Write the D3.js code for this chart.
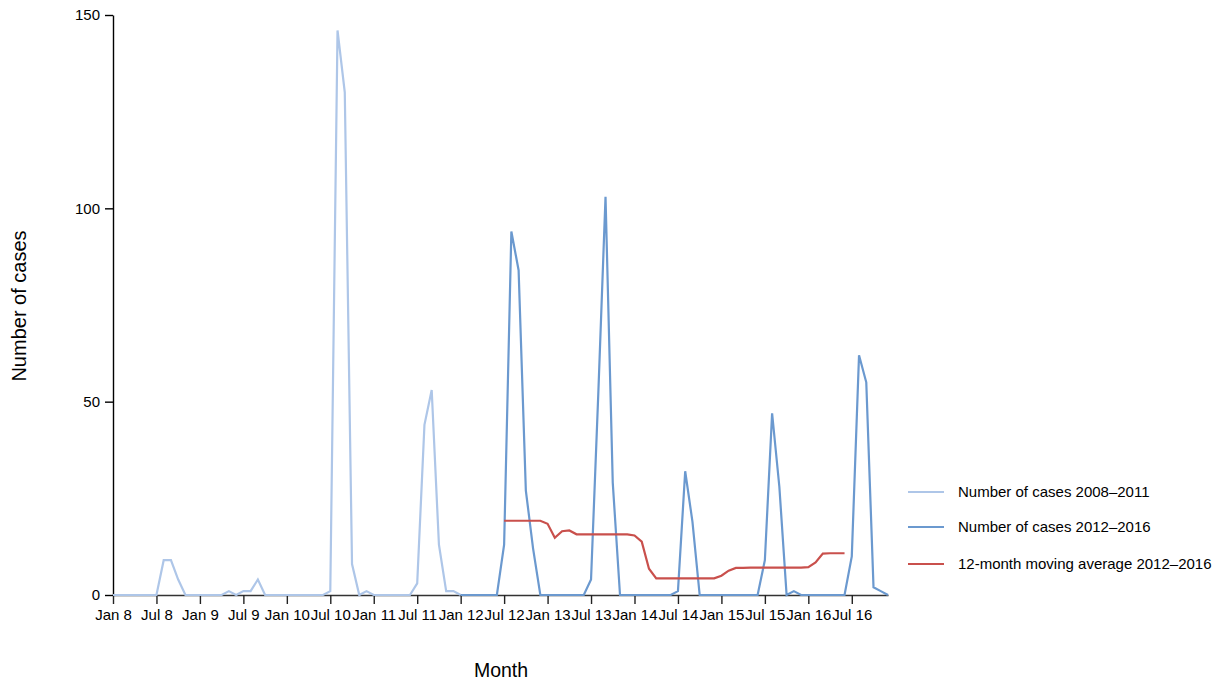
<!DOCTYPE html>
<html>
<head>
<meta charset="utf-8">
<script src="https://cdn.jsdelivr.net/npm/d3@7"></script>
<style>
  body { margin: 0; background: #fff; }
  svg { display: block; font-family: "Liberation Sans", Arial, sans-serif; }
</style>
</head>
<body>
<svg id="chart" width="1218" height="681"></svg>
<script>
// Month index 0 = Jan 2008
const tickMonths = [0, 6, 12, 18, 24, 30, 36, 42, 48, 54, 60, 66, 72, 78, 84, 90, 96, 102];
const tickLabels = ["Jan 8", "Jul 8", "Jan 9", "Jul 9", "Jan 10", "Jul 10", "Jan 11", "Jul 11", "Jan 12",
  "Jul 12", "Jan 13", "Jul 13", "Jan 14", "Jul 14", "Jan 15", "Jul 15", "Jan 16", "Jul 16"];
const yTicks = [0, 50, 100, 150];

// Number of cases 2008–2011 (months 0..48)
const startEarly = 0;
const casesEarly = [
  0, 0, 0, 0, 0, 0, 0, 9, 9, 4, 0, 0,
  0, 0, 0, 0, 1, 0, 1, 1, 4, 0, 0, 0,
  0, 0, 0, 0, 0, 0, 1, 146, 130, 8, 0, 1,
  0, 0, 0, 0, 0, 0, 3, 44, 53, 13, 1, 1,
  0
];

// Number of cases 2012–2016 (months 48..107)
const startLate = 48;
const casesLate = [
  0, 0, 0, 0, 0, 0, 13, 94, 84, 27, 12, 0,
  0, 0, 0, 0, 0, 0, 4, 52, 103, 29, 0, 0,
  0, 0, 0, 0, 0, 0, 1, 32, 19, 0, 0, 0,
  0, 0, 0, 0, 0, 0, 9, 47, 28, 0, 1, 0,
  0, 0, 0, 0, 0, 0, 10, 62, 55, 2, 1, 0
];

// 12-month moving average 2012–2016 (months 54..101)
const startAvg = 54;
const movingAvg = [
  19.2, 19.2, 19.2, 19.2, 19.2, 19.2, 18.4, 14.8, 16.5, 16.7, 15.7, 15.7,
  15.7, 15.7, 15.7, 15.7, 15.7, 15.7, 15.4, 13.8, 6.8, 4.3, 4.3, 4.3,
  4.3, 4.3, 4.3, 4.3, 4.3, 4.3, 5.0, 6.3, 7.0, 7.0, 7.1, 7.1,
  7.1, 7.1, 7.1, 7.1, 7.1, 7.1, 7.2, 8.4, 10.7, 10.8, 10.8, 10.8
];

const seriesNames = ["Number of cases 2008\u20132011", "Number of cases 2012\u20132016", "12-month moving average 2012\u20132016"];
const seriesColors = ["#aec6e8", "#6b99cf", "#c9504c"];

const svg = d3.select("#chart");
const x = d3.scaleLinear().domain([0, 107]).range([113, 888]);
const y = d3.scaleLinear().domain([0, 150]).range([595, 15]);

const toPts = (arr, start) => arr.map((v, i) => ({ m: start + i, v }));
const line = d3.line().x(d => x(d.m)).y(d => y(d.v));

const series = [toPts(casesEarly, startEarly), toPts(casesLate, startLate), toPts(movingAvg, startAvg)];

// axes
const xAxis = d3.axisBottom(x).tickValues(tickMonths)
  .tickFormat((d, i) => tickLabels[i]).tickSize(9).tickPadding(5).tickSizeOuter(0);
const gx = svg.append("g").attr("transform", `translate(0,${y(0)})`).call(xAxis);
gx.selectAll("text").attr("font-size", 15).attr("fill", "#000").attr("font-family", "Liberation Sans, Arial, sans-serif");
gx.select(".domain").attr("stroke", "#333").attr("stroke-width", 1.6);
gx.selectAll(".tick line").attr("stroke", "#222").attr("stroke-width", 1.4);

const yAxis = d3.axisLeft(y).tickValues(yTicks).tickSize(8).tickPadding(5).tickSizeOuter(0);
const gy = svg.append("g").attr("transform", `translate(${x(0)},0)`).call(yAxis);
gy.selectAll("text").attr("font-size", 15).attr("fill", "#000").attr("font-family", "Liberation Sans, Arial, sans-serif");
gy.select(".domain").attr("stroke", "#000").attr("stroke-width", 1.4);
gy.selectAll(".tick line").attr("stroke", "#000").attr("stroke-width", 1.4);

// lines
series.forEach((s, i) => {
  svg.append("path").datum(s)
    .attr("fill", "none")
    .attr("stroke", seriesColors[i])
    .attr("stroke-width", 2.2)
    .attr("stroke-linejoin", "miter")
    .attr("d", line);
});

// axis titles
svg.append("text").attr("x", 501).attr("y", 677).attr("text-anchor", "middle")
  .attr("font-size", 19.5).attr("fill", "#000").text("Month");
svg.append("text").attr("transform", "translate(26,306) rotate(-90)").attr("text-anchor", "middle")
  .attr("font-size", 20).attr("fill", "#000").text("Number of cases");

// legend
const legendY = [492, 527, 564];
const lg = svg.append("g");
seriesNames.forEach((name, i) => {
  lg.append("line").attr("x1", 908).attr("x2", 944).attr("y1", legendY[i]).attr("y2", legendY[i])
    .attr("stroke", seriesColors[i]).attr("stroke-width", 2.2);
  lg.append("text").attr("x", 958).attr("y", legendY[i]).attr("dy", "0.35em")
    .attr("font-size", 15).attr("fill", "#000").text(name);
});
</script>
</body>
</html>
